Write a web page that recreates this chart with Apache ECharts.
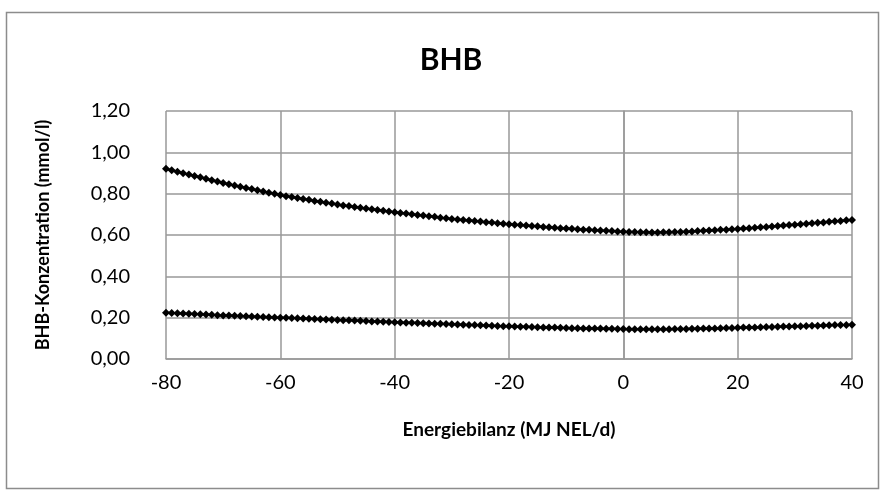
<!DOCTYPE html>
<html>
<head>
<meta charset="utf-8">
<script src="https://cdn.jsdelivr.net/npm/echarts@6/dist/echarts.min.js"></script>
<style>
html,body{margin:0;padding:0;background:#fff;}
#chart{width:884px;height:495px;}
</style>
</head>
<body>
<div id="chart"></div>
<script>
const chartTitle = 'BHB';
const xAxisTitle = 'Energiebilanz (MJ NEL/d)';
const yAxisTitle = 'BHB-Konzentration (mmol/l)';
const yTicks = [0, 0.2, 0.4, 0.6, 0.8, 1.0, 1.2];
const xTicks = [-80, -60, -40, -20, 0, 20, 40];

const energy = [
-80,-79,-78,-77,-76,-75,-74,-73,-72,-71,-70,-69,-68,-67,-66,-65,-64,-63,-62,-61,
-60,-59,-58,-57,-56,-55,-54,-53,-52,-51,-50,-49,-48,-47,-46,-45,-44,-43,-42,-41,
-40,-39,-38,-37,-36,-35,-34,-33,-32,-31,-30,-29,-28,-27,-26,-25,-24,-23,-22,-21,
-20,-19,-18,-17,-16,-15,-14,-13,-12,-11,-10,-9,-8,-7,-6,-5,-4,-3,-2,-1,
0,1,2,3,4,5,6,7,8,9,10,11,12,13,14,15,16,17,18,19,
20,21,22,23,24,25,26,27,28,29,30,31,32,33,34,35,36,37,38,39,40
];

const upperBHB = [
0.920,0.913,0.906,0.899,0.893,0.886,0.879,0.872,0.865,0.859,0.852,
0.846,0.840,0.834,0.828,0.822,0.816,0.811,0.805,0.799,0.793,
0.788,0.784,0.779,0.774,0.770,0.765,0.761,0.756,0.752,0.747,
0.743,0.740,0.736,0.732,0.728,0.725,0.721,0.717,0.714,0.710,
0.707,0.704,0.700,0.697,0.694,0.691,0.688,0.684,0.681,0.678,
0.675,0.673,0.670,0.668,0.665,0.662,0.660,0.657,0.655,0.652,
0.650,0.648,0.646,0.644,0.642,0.639,0.637,0.635,0.633,0.631,
0.630,0.628,0.626,0.625,0.623,0.622,0.620,0.619,0.617,0.616,
0.615,0.614,0.613,0.613,0.612,0.612,0.613,0.613,0.614,0.615,
0.616,0.617,0.619,0.620,0.622,0.623,0.625,0.626,0.628,0.629,
0.631,0.633,0.635,0.637,0.639,0.641,0.644,0.646,0.648,0.650,
0.652,0.654,0.657,0.659,0.661,0.664,0.666,0.668,0.671,0.673
];

const lowerBHB = [
0.224,0.223,0.221,0.220,0.219,0.218,0.216,0.215,0.214,0.212,0.211,
0.210,0.209,0.208,0.207,0.206,0.204,0.203,0.202,0.201,0.200,
0.199,0.198,0.197,0.196,0.195,0.193,0.192,0.191,0.190,0.189,
0.188,0.187,0.186,0.185,0.184,0.182,0.181,0.180,0.179,0.178,
0.177,0.176,0.175,0.174,0.173,0.172,0.171,0.170,0.169,0.168,
0.167,0.166,0.165,0.164,0.163,0.162,0.161,0.160,0.159,0.158,
0.157,0.156,0.156,0.155,0.154,0.153,0.152,0.152,0.151,0.150,
0.149,0.149,0.148,0.148,0.147,0.147,0.146,0.146,0.145,0.145,
0.144,0.144,0.144,0.144,0.144,0.144,0.144,0.144,0.145,0.145,
0.145,0.146,0.146,0.147,0.148,0.148,0.149,0.150,0.150,0.151,
0.152,0.152,0.153,0.154,0.155,0.155,0.156,0.157,0.157,0.158,
0.159,0.160,0.161,0.161,0.162,0.163,0.164,0.164,0.165,0.166
];

const FONT = 'Lato, "Liberation Sans", sans-serif';
const chart = echarts.init(document.getElementById('chart'), null, {renderer: 'canvas'});

function mkSeries(vals) {
  return {
    type: 'line',
    data: energy.map((x, i) => [x, vals[i]]),
    symbol: 'diamond',
    symbolSize: 8,
    showSymbol: true,
    itemStyle: {color: '#000'},
    lineStyle: {color: '#000', width: 2},
    animation: false,
    silent: true
  };
}

chart.setOption({
  animation: false,
  backgroundColor: '#fff',
  grid: {left: 166, right: 32, top: 111, bottom: 136},
  graphic: [
    {type: 'rect', shape: {x: 6.5, y: 12.5, width: 872, height: 476},
     style: {fill: 'none', stroke: '#8c8c8c', lineWidth: 1.5}, silent: true},
    {type: 'text', x: 451, y: 60,
     style: {text: chartTitle, font: 'bold 30px ' + FONT, fill: '#000', textAlign: 'center', textVerticalAlign: 'middle'}}
  ],
  xAxis: {
    type: 'value',
    min: xTicks[0], max: xTicks[xTicks.length - 1], interval: 20,
    name: xAxisTitle, nameLocation: 'middle', nameGap: 61,
    nameTextStyle: {fontFamily: FONT, fontWeight: 'bold', fontSize: 19, color: '#000'},
    axisLine: {show: true, lineStyle: {color: '#999', width: 1.5}},
    axisTick: {show: false},
    axisLabel: {color: '#000', fontFamily: FONT, fontSize: 20, margin: 14},
    splitLine: {show: true, lineStyle: {color: '#999', width: 1.5}}
  },
  yAxis: {
    type: 'value',
    min: yTicks[0], max: yTicks[yTicks.length - 1], interval: 0.2,
    name: yAxisTitle, nameLocation: 'middle', nameGap: 114, nameRotate: 90,
    nameTextStyle: {fontFamily: FONT, fontWeight: 'bold', fontSize: 18, color: '#000'},
    axisLine: {show: true, lineStyle: {color: '#999', width: 1.5}},
    axisTick: {show: false},
    axisLabel: {color: '#000', fontFamily: FONT, fontSize: 20, margin: 36,
      formatter: v => v.toFixed(2).replace('.', ',')},
    splitLine: {show: true, lineStyle: {color: '#999', width: 1.5}}
  },
  series: [mkSeries(upperBHB), mkSeries(lowerBHB)]
});
</script>
</body>
</html>
